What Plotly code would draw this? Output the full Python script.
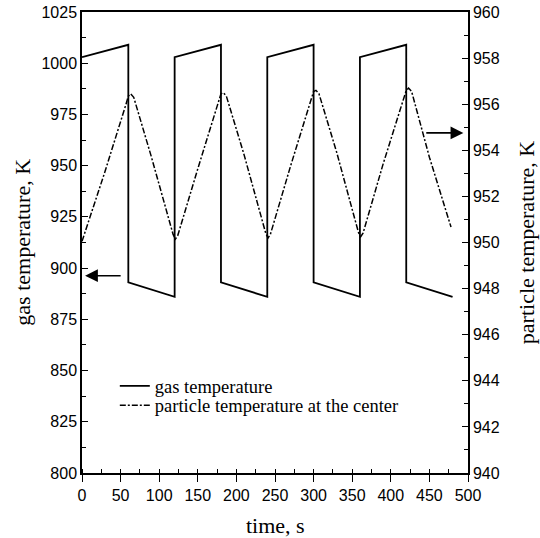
import plotly.graph_objects as go

# gas temperature (left axis, K)
gas_t = [0, 60, 60, 120, 120, 180, 180, 240, 240, 300, 300, 360, 360, 420, 420, 480]
gas_v = [1003, 1009, 893, 886, 1003, 1009, 893, 886, 1003, 1009, 893, 886, 1003, 1009, 893, 886]

# particle temperature at the center (right axis, K)
part_t = [0, 30, 57, 60, 63, 67, 90, 118, 121, 124, 150, 177, 180, 183, 187, 210,
          238, 241, 244, 270, 297, 300, 303, 307, 330, 358, 361, 364, 390, 417,
          420, 423, 427, 450, 478]
part_v = [950.05, 953.1, 956.0, 956.35, 956.45, 956.3, 953.7, 950.35, 950.15, 950.3,
          953.2, 956.1, 956.45, 956.5, 956.35, 953.8, 950.4, 950.2, 950.35, 953.3,
          956.2, 956.55, 956.6, 956.45, 953.9, 950.45, 950.25, 950.4, 953.4, 956.3,
          956.6, 956.7, 956.55, 953.7, 950.67]

left_ticks = [800, 825, 850, 875, 900, 925, 950, 975, 1000, 1025]
right_ticks = [940, 942, 944, 946, 948, 950, 952, 954, 956, 958, 960]
x_ticks = [0, 50, 100, 150, 200, 250, 300, 350, 400, 450, 500]

serif = "Liberation Serif"
sans = "Liberation Sans"

fig = go.Figure()
fig.add_trace(go.Scatter(x=gas_t, y=gas_v, mode="lines", name="gas temperature", legend="legend",
                         line=dict(color="black", width=1.8)))
fig.add_trace(go.Scatter(x=part_t, y=part_v, mode="lines", yaxis="y2", legend="legend2",
                         name="particle temperature at the center",
                         line=dict(color="black", width=1.5, dash="6px,2px,2px,2px")))

fig.add_annotation(x=4, y=896.3, ax=52, ay=896.3, xref="x", yref="y", axref="x", ayref="y",
                   showarrow=True, arrowhead=2, arrowsize=1.6, arrowwidth=1.6, arrowcolor="black", text="")
fig.add_annotation(x=494, y=966, ax=444, ay=966, xref="x", yref="y", axref="x", ayref="y",
                   showarrow=True, arrowhead=2, arrowsize=1.6, arrowwidth=1.6, arrowcolor="black", text="")

title_font = dict(family=serif, size=22, color="black")
fig.add_annotation(text="gas temperature, K", xref="paper", yref="paper", x=-0.155, y=0.5,
                   xanchor="center", yanchor="middle", textangle=-90, showarrow=False, font=title_font)
fig.add_annotation(text="particle temperature, K", xref="paper", yref="paper", x=1.152, y=0.5,
                   xanchor="center", yanchor="middle", textangle=-90, showarrow=False, font=title_font)
fig.add_annotation(text="time, s", xref="paper", yref="paper", x=0.5, y=-0.113,
                   xanchor="center", yanchor="middle", showarrow=False, font=title_font)

axis_common = dict(showgrid=False, zeroline=False, showline=True, linecolor="black", linewidth=1.5,
                   tickcolor="black", tickwidth=1.2, automargin=False,
                   tickfont=dict(family=sans, size=16, color="black"))

leg_font = dict(family=serif, size=18.5, color="black")
fig.update_layout(
    width=540, height=538,
    margin=dict(l=82, r=72, t=12, b=65),
    paper_bgcolor="white", plot_bgcolor="white",
    showlegend=True,
    legend=dict(x=0.085, y=0.188, xanchor="left", yanchor="middle", bgcolor="rgba(0,0,0,0)",
                font=leg_font, itemwidth=30),
    legend2=dict(x=0.085, y=0.146, xanchor="left", yanchor="middle", bgcolor="rgba(0,0,0,0)",
                 font=leg_font, itemwidth=30),
    xaxis=dict(range=[0, 500], tickvals=x_ticks, ticks="outside", ticklen=7, mirror=True,
               minor=dict(dtick=25, ticks="inside", ticklen=4, tickcolor="black"),
               **axis_common),
    yaxis=dict(range=[800, 1025], tickvals=left_ticks, ticks="inside", ticklen=6,
               minor=dict(dtick=12.5, tick0=800, ticks="inside", ticklen=4, tickcolor="black"),
               **axis_common),
    yaxis2=dict(range=[940, 960], tickvals=right_ticks, ticks="inside", ticklen=6, overlaying="y", side="right",
                minor=dict(dtick=1, tick0=940, ticks="inside", ticklen=4, tickcolor="black"),
                **axis_common),
)

fig.write_html("out.html")
